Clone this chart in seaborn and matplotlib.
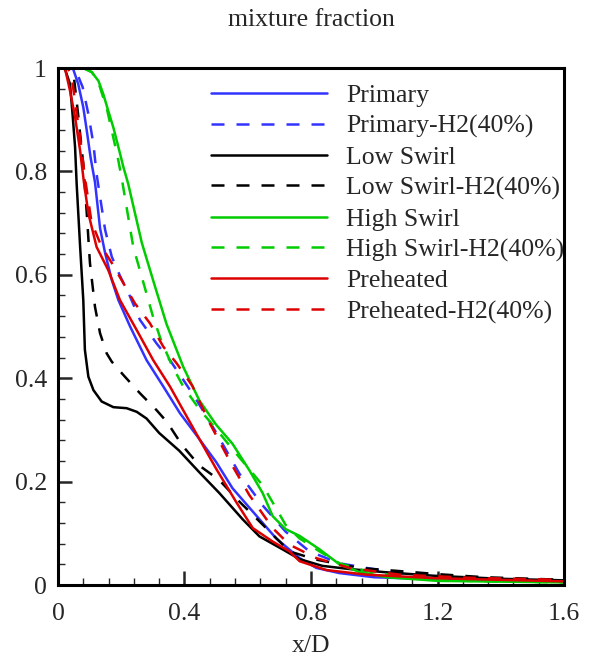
import numpy as np
import pandas as pd
import matplotlib
matplotlib.use("Agg")
import matplotlib.pyplot as plt
from matplotlib.ticker import MultipleLocator
import seaborn as sns

# ---------------- data ----------------
primary_x = [0, 0.03, 0.048, 0.064, 0.08, 0.091, 0.103, 0.117, 0.133, 0.149, 0.17, 0.191, 0.228,
             0.28, 0.333, 0.386, 0.44, 0.5, 0.552, 0.616, 0.69, 0.764, 0.817, 0.89, 1.0, 1.2, 1.4, 1.6]
primary_y = [1, 1, 0.998, 0.969, 0.924, 0.879, 0.827, 0.779, 0.69, 0.642, 0.59, 0.551, 0.5,
             0.435, 0.384, 0.332, 0.288, 0.238, 0.187, 0.142, 0.09, 0.052, 0.033, 0.023, 0.015,
             0.011, 0.009, 0.007]

primary_h2_x = [0, 0.04, 0.06, 0.078, 0.096, 0.112, 0.122, 0.149, 0.17, 0.196, 0.225, 0.259, 0.312,
                0.354, 0.396, 0.436, 0.5, 0.574, 0.647, 0.72, 0.795, 0.89, 0.975, 1.08, 1.2, 1.4, 1.6]
primary_h2_y = [1, 1, 0.99, 0.963, 0.911, 0.853, 0.795, 0.687, 0.635, 0.598, 0.562, 0.513, 0.467,
                0.435, 0.397, 0.36, 0.295, 0.215, 0.154, 0.103, 0.065, 0.042, 0.033, 0.023, 0.017,
                0.012, 0.009]

low_x = [0, 0.022, 0.038, 0.046, 0.054, 0.059, 0.07, 0.08, 0.085, 0.096, 0.112, 0.138, 0.175, 0.217,
         0.249, 0.28, 0.32, 0.383, 0.447, 0.51, 0.584, 0.637, 0.71, 0.764, 0.836, 0.92, 1.03, 1.185,
         1.4, 1.6]
low_y = [1, 0.998, 0.969, 0.911, 0.847, 0.776, 0.654, 0.551, 0.455, 0.403, 0.377, 0.355, 0.344,
         0.342, 0.335, 0.322, 0.294, 0.26, 0.218, 0.178, 0.127, 0.094, 0.069, 0.05, 0.037, 0.031,
         0.025, 0.018, 0.012, 0.009]

low_h2_x = [0, 0.033, 0.048, 0.064, 0.08, 0.091, 0.101, 0.117, 0.133, 0.154, 0.17, 0.207, 0.259,
            0.312, 0.345, 0.393, 0.447, 0.51, 0.574, 0.637, 0.732, 0.817, 0.954, 1.12, 1.2, 1.35, 1.6]
low_h2_y = [1, 1, 0.995, 0.908, 0.814, 0.719, 0.623, 0.538, 0.487, 0.448, 0.432, 0.406, 0.371,
            0.338, 0.315, 0.27, 0.231, 0.203, 0.161, 0.123, 0.065, 0.049, 0.033, 0.025, 0.021,
            0.015, 0.01]

high_x = [0, 0.08, 0.107, 0.128, 0.143, 0.159, 0.175, 0.191, 0.207, 0.222, 0.265, 0.302, 0.343,
          0.396, 0.447, 0.5, 0.552, 0.605, 0.647, 0.679, 0.72, 0.764, 0.827, 0.89, 0.954, 1.04,
          1.2, 1.6]
high_y = [1, 1, 0.992, 0.975, 0.95, 0.917, 0.885, 0.847, 0.808, 0.776, 0.662, 0.587, 0.505,
          0.422, 0.357, 0.31, 0.273, 0.222, 0.178, 0.133, 0.108, 0.095, 0.069, 0.04, 0.025, 0.015,
          0.008, 0.005]

high_h2_x = [0, 0.08, 0.107, 0.128, 0.155, 0.189, 0.202, 0.238, 0.27, 0.3, 0.325, 0.36, 0.396,
             0.447, 0.5, 0.542, 0.595, 0.647, 0.69, 0.72, 0.764, 0.827, 0.89, 0.975, 1.1, 1.3, 1.6]
high_h2_y = [1, 1, 0.992, 0.972, 0.92, 0.827, 0.785, 0.654, 0.585, 0.52, 0.475, 0.425, 0.384,
             0.34, 0.302, 0.27, 0.231, 0.193, 0.148, 0.116, 0.09, 0.065, 0.042, 0.027, 0.015,
             0.008, 0.005]

pre_x = [0, 0.022, 0.038, 0.054, 0.07, 0.082, 0.096, 0.122, 0.159, 0.196, 0.249, 0.301, 0.354,
         0.396, 0.44, 0.5, 0.563, 0.616, 0.679, 0.732, 0.764, 0.848, 0.975, 1.2, 1.6]
pre_y = [1, 1, 0.956, 0.905, 0.84, 0.779, 0.719, 0.654, 0.609, 0.551, 0.493, 0.435, 0.384,
         0.338, 0.29, 0.225, 0.161, 0.11, 0.084, 0.065, 0.046, 0.029, 0.02, 0.013, 0.007]

pre_h2_x = [0, 0.03, 0.043, 0.056, 0.07, 0.085, 0.106, 0.138, 0.17, 0.201, 0.243, 0.291, 0.333,
            0.375, 0.425, 0.478, 0.551, 0.605, 0.679, 0.732, 0.817, 0.922, 1.08, 1.3, 1.6]
pre_h2_y = [1, 1, 0.985, 0.925, 0.866, 0.789, 0.702, 0.654, 0.623, 0.59, 0.545, 0.506, 0.461,
            0.429, 0.385, 0.315, 0.231, 0.174, 0.11, 0.078, 0.052, 0.033, 0.02, 0.014, 0.01]

labels = ["Primary", "Primary-H2(40%)", "Low Swirl", "Low Swirl-H2(40%)",
          "High Swirl", "High Swirl-H2(40%)", "Preheated", "Preheated-H2(40%)"]
series_x = [primary_x, primary_h2_x, low_x, low_h2_x, high_x, high_h2_x, pre_x, pre_h2_x]
series_y = [primary_y, primary_h2_y, low_y, low_h2_y, high_y, high_h2_y, pre_y, pre_h2_y]
colors = ["#3333ff", "#3333ff", "#000000", "#000000",
          "#00cc00", "#00cc00", "#dd0000", "#dd0000"]
dashed = [False, True, False, True, False, True, False, True]

x_ticks = [0, 0.4, 0.8, 1.2, 1.6]
y_ticks = [0, 0.2, 0.4, 0.6, 0.8, 1]

# ---------------- plot ----------------
sns.set_style("ticks")
plt.rcParams["font.family"] = ["Liberation Serif", "DejaVu Serif"]

fig = plt.figure(figsize=(5.93, 6.65), dpi=100)
ax = fig.add_axes([0.0978, 0.1203, 0.8533, 0.7774])

frames = []
for lab, xs, ys in zip(labels, series_x, series_y):
    frames.append(pd.DataFrame({"x": xs, "y": ys, "case": lab}))
df = pd.concat(frames, ignore_index=True)

for lab, col, dsh in zip(labels, colors, dashed):
    sub = df[df["case"] == lab]
    sns.lineplot(data=sub, x="x", y="y", ax=ax, color=col, lw=1.8,
                 sort=False, estimator=None, label=lab)
    l = ax.get_lines()[-1]
    l.set_solid_joinstyle("round")
    if dsh:
        l.set_dashes((5.2, 4.8))

ax.set_xlim(0, 1.6)
ax.set_ylim(0, 1)
ax.set_xticks(x_ticks)
ax.set_xticklabels([f"{v:g}" for v in x_ticks])
ax.set_yticks(y_ticks)
ax.set_yticklabels([f"{v:g}" for v in y_ticks])
ax.xaxis.set_minor_locator(MultipleLocator(0.08))
ax.yaxis.set_minor_locator(MultipleLocator(0.04))
ax.tick_params(which="major", direction="in", length=10, width=1.8, labelsize=18.5,
               top=False, right=False)
ax.tick_params(axis="x", which="major", pad=13)
ax.tick_params(axis="y", which="major", pad=8)
ax.tick_params(which="minor", direction="in", length=5, width=1.0, top=False, right=False)

for sp in ax.spines.values():
    sp.set_visible(True)
    sp.set_linewidth(2.2)
    sp.set_color("black")

ax.set_xlabel("x/D", fontsize=18.5, labelpad=7)
ax.set_ylabel("")
ax.set_title("mixture fraction", fontsize=18.5, pad=30)

leg = ax.legend(loc="upper left", bbox_to_anchor=(0.283, 0.989), frameon=False,
                fontsize=18.5, handlelength=4.5, handletextpad=0.75,
                labelspacing=0.30, borderaxespad=0)

fig.savefig("out.png", dpi=100)
